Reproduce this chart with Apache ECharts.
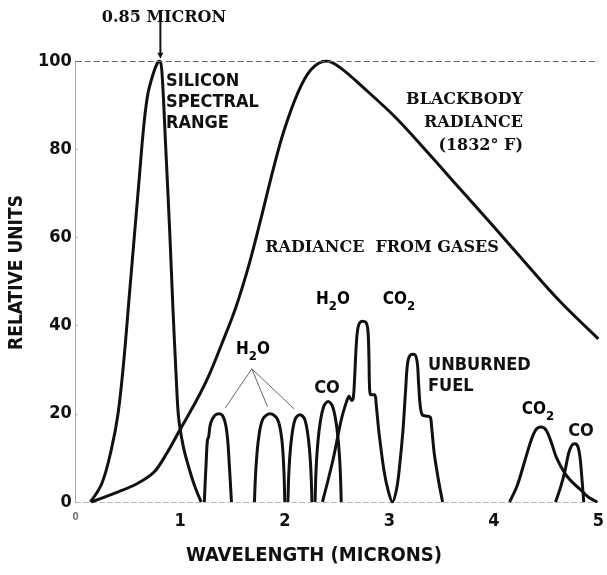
<!DOCTYPE html>
<html>
<head>
<meta charset="utf-8">
<title>Silicon spectral range vs. blackbody and gas radiance</title>
<script src="https://cdn.jsdelivr.net/npm/echarts@6/dist/echarts.min.js"></script>
<style>
  html, body { margin: 0; padding: 0; background: #fff; }
  #chart { width: 607px; height: 575px; }
</style>
</head>
<body>
<div id="chart"></div>
<script>
// curves: [wavelength (microns), relative units]
const silicon = [[0.14, 0], [0.25, 4.2], [0.34, 11.8], [0.405, 20], [0.46, 32], [0.51, 46],
  [0.56, 60], [0.61, 74], [0.65, 85], [0.69, 92.5], [0.74, 97], [0.78, 99.5], [0.805, 100],
  [0.825, 97.5], [0.86, 81], [0.9, 61], [0.93, 44], [0.96, 29], [0.985, 19], [1.03, 12.5],
  [1.08, 8], [1.14, 3.5], [1.2, 0]];
const blackbody = [[0.15, 0], [0.375, 2], [0.59, 4.2], [0.75, 6.8], [0.87, 11], [1.0, 16.5],
  [1.155, 23], [1.28, 29], [1.4, 36], [1.53, 44], [1.66, 54], [1.78, 65], [1.89, 75.5],
  [1.99, 84], [2.12, 92.5], [2.25, 98], [2.4, 100], [2.53, 98.5], [2.75, 94], [3.06, 87.2],
  [3.37, 79.2], [3.68, 70.9], [4.0, 62.4], [4.31, 54], [4.62, 45.8], [5.0, 37]];
const h2oPeak1 = [[1.23, 0], [1.248, 9], [1.26, 14], [1.272, 14.8], [1.29, 17.8], [1.33, 19.6],
  [1.375, 20], [1.42, 18.8], [1.45, 15], [1.468, 9], [1.49, 0]];
const h2oPeak2 = [[1.71, 0], [1.725, 8], [1.75, 14.5], [1.79, 18.8], [1.86, 20], [1.93, 18.8],
  [1.97, 14.5], [1.99, 8], [2.0, 0]];
const h2oPeak3 = [[2.03, 0], [2.042, 8], [2.065, 14.5], [2.1, 18.8], [2.145, 19.8], [2.19, 18.8],
  [2.225, 14.5], [2.248, 8], [2.26, 0]];
const coPeak1 = [[2.29, 0], [2.303, 9], [2.33, 16.5], [2.37, 21.5], [2.415, 22.8], [2.46, 21.5],
  [2.5, 16.5], [2.527, 9], [2.54, 0]];
const h2oCo2Fuel = [[2.36, 0], [2.42, 5.5], [2.47, 10.5], [2.54, 18.6], [2.59, 22.7], [2.615, 24],
  [2.64, 23], [2.655, 23.5], [2.668, 28], [2.685, 36], [2.705, 40], [2.74, 41], [2.775, 40.8],
  [2.795, 39], [2.805, 33], [2.812, 25.5], [2.825, 24.3], [2.86, 24.3], [2.875, 22], [2.9, 16],
  [2.95, 7], [2.99, 2.5], [3.03, 0], [3.07, 3], [3.1, 8.5], [3.13, 16], [3.155, 25], [3.175, 31.5],
  [3.2, 33.3], [3.235, 33.5], [3.265, 32], [3.28, 27], [3.295, 22], [3.315, 19.8], [3.35, 19.5],
  [3.39, 19.3], [3.405, 17], [3.43, 11], [3.47, 5], [3.51, 0]];
const co2Peak = [[4.15, 0], [4.22, 3.5], [4.28, 8], [4.35, 13.5], [4.4, 16.3], [4.45, 17],
  [4.5, 16.3], [4.55, 13.5], [4.6, 10], [4.68, 6.5], [4.75, 4.5], [4.82, 3], [4.9, 1.2], [4.99, 0]];
const coPeak2 = [[4.59, 0], [4.64, 3.5], [4.68, 7], [4.715, 11], [4.745, 12.8], [4.775, 13.2],
  [4.805, 12.5], [4.825, 10], [4.842, 5.5], [4.86, 0]];

const xTicks = [0, 1, 2, 3, 4, 5];
const yTicks = [0, 20, 40, 60, 80, 100];

// leader lines from the lower H2O label to its three peaks
const h2oLeaderFrom = [1.685, 30.2];
const h2oLeaderTo = [[1.43, 21.3], [1.835, 21.6], [2.09, 21.1]];
const micronArrow = [[0.81, 106], [0.81, 100.5]];

const SANS = "'DejaVu Sans Condensed', 'DejaVu Sans', sans-serif";
const SERIF = "'DejaVu Serif', 'Liberation Serif', serif";
const INK = '#111';

const chart = echarts.init(document.getElementById('chart'), null, { renderer: 'canvas' });

function curve(name, data) {
  return {
    name: name,
    type: 'line',
    data: data,
    smooth: 0.35,
    showSymbol: false,
    silent: true,
    lineStyle: { color: INK, width: 3, join: 'round' }
  };
}

const series = [
  curve('Silicon', silicon),
  curve('Blackbody', blackbody),
  curve('H2O 1.4', h2oPeak1),
  curve('H2O 1.9', h2oPeak2),
  curve('H2O 2.1', h2oPeak3),
  curve('CO 2.4', coPeak1),
  curve('H2O/CO2/fuel', h2oCo2Fuel),
  curve('CO2 4.4', co2Peak),
  curve('CO 4.8', coPeak2)
];
series[1].markLine = {
  silent: true,
  symbol: 'none',
  label: { show: false },
  lineStyle: { color: '#666', type: [6, 3], width: 1 },
  data: [{ yAxis: 100 }]
};

const subRich = {
  n: { fontFamily: SANS, fontWeight: 'bold', fontSize: 17, color: INK },
  s: { fontFamily: SANS, fontWeight: 'bold', fontSize: 13, color: INK, padding: [14, 0, 0, 0] }
};

function sansText(x, y, text, align) {
  return {
    type: 'text', x: x, y: y, silent: true,
    style: {
      text: text, fill: INK, align: align || 'center', verticalAlign: 'middle',
      font: 'bold 18px ' + SANS, lineHeight: 21
    }
  };
}
function serifText(x, y, text, align) {
  return {
    type: 'text', x: x, y: y, silent: true,
    style: {
      text: text, fill: INK, align: align || 'center', verticalAlign: 'middle',
      font: 'bold 16px ' + SERIF, lineHeight: 23
    }
  };
}
function richText(x, y, text) {
  return {
    type: 'text', x: x, y: y, silent: true,
    style: { text: text, align: 'center', verticalAlign: 'middle', rich: subRich }
  };
}

chart.setOption({
  animation: false,
  backgroundColor: '#fff',
  grid: { left: 70, right: 3, top: 61, bottom: 73 },
  xAxis: {
    type: 'value', min: 0, max: 5, interval: 1,
    name: 'WAVELENGTH (MICRONS)', nameLocation: 'middle', nameGap: 44,
    nameTextStyle: { fontFamily: SANS, fontWeight: 'bold', fontSize: 20, color: INK, padding: [0, 46, 0, 0] },
    axisLine: { show: true, lineStyle: { color: '#bbb', type: [5, 3], width: 1 } },
    axisTick: { show: false },
    splitLine: { show: false },
    axisLabel: {
      margin: 10,
      fontFamily: SANS, fontWeight: 'bold', fontSize: 18, color: INK,
      formatter: v => (v === 0 ? '{z|0}' : String(v)),
      rich: { z: { fontSize: 10, color: '#777', fontFamily: SANS, padding: [0, 0, 6, 0] } },
      customValues: xTicks
    }
  },
  yAxis: {
    type: 'value', min: 0, max: 100, interval: 20,
    name: 'RELATIVE UNITS', nameLocation: 'middle', nameGap: 38, nameRotate: 90,
    nameTextStyle: { fontFamily: SANS, fontWeight: 'bold', fontSize: 19, color: INK, padding: [0, 0, 0, 18] },
    axisLine: { show: true, lineStyle: { color: '#aaa', width: 1 } },
    axisTick: { show: true, length: 2, inside: true, lineStyle: { color: '#aaa' } },
    splitLine: { show: false },
    axisLabel: {
      margin: 4,
      fontFamily: SANS, fontWeight: 'bold', fontSize: 18, color: INK,
      customValues: yTicks
    }
  },
  series: series
});

// annotations placed from data coordinates
const px = p => chart.convertToPixel({ gridIndex: 0 }, p);
const graphics = [];

const from = px(h2oLeaderFrom);
h2oLeaderTo.forEach(t => {
  const to = px(t);
  graphics.push({
    type: 'line', silent: true,
    shape: { x1: from[0], y1: from[1], x2: to[0], y2: to[1] },
    style: { stroke: '#666', lineWidth: 1 }
  });
});

const a0 = px(micronArrow[0]);
const a1 = px(micronArrow[1]);
graphics.push({
  type: 'line', silent: true,
  shape: { x1: a0[0], y1: a0[1] - 20, x2: a1[0], y2: a1[1] - 4 },
  style: { stroke: INK, lineWidth: 2 }
});
graphics.push({
  type: 'polygon', silent: true,
  shape: { points: [[a1[0] - 3, a1[1] - 6], [a1[0] + 3, a1[1] - 6], [a1[0], a1[1]]] },
  style: { fill: INK }
});

graphics.push(serifText(164, 18, '0.85 MICRON'));
graphics.push(sansText(166, 102, 'SILICON\nSPECTRAL\nRANGE', 'left'));
graphics.push(serifText(523, 123, 'BLACKBODY\nRADIANCE\n(1832° F)', 'right'));
graphics.push(serifText(382, 248, 'RADIANCE  FROM GASES'));
graphics.push(richText(253, 350, '{n|H}{s|2}{n|O}'));
graphics.push(sansText(327, 388, 'CO'));
graphics.push(richText(333, 300, '{n|H}{s|2}{n|O}'));
graphics.push(richText(399, 300, '{n|CO}{s|2}'));
graphics.push(sansText(428, 376, 'UNBURNED\nFUEL', 'left'));
graphics.push(richText(538, 410, '{n|CO}{s|2}'));
graphics.push(sansText(581, 431, 'CO'));

chart.setOption({ graphic: graphics });
</script>
</body>
</html>
